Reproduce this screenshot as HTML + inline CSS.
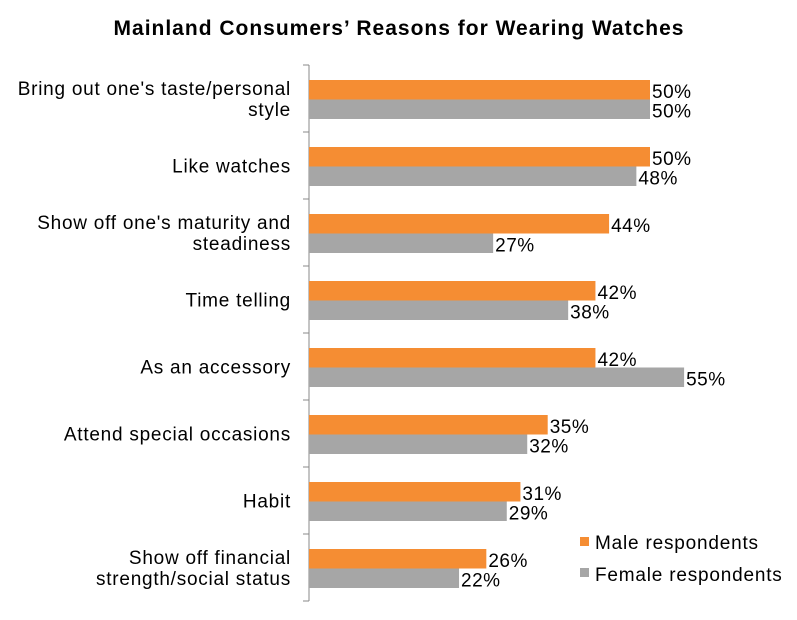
<!DOCTYPE html>
<html><head><meta charset="utf-8"><style>
body{margin:0;background:#fff;}
svg{display:block;font-family:"Liberation Sans",Arial,sans-serif;}
</style></head><body>
<svg id="chart" width="797" height="620" viewBox="0 0 797 620">
<text x="399" y="35" text-anchor="middle" font-size="21" letter-spacing="1" font-weight="bold" fill="#000">Mainland Consumers’ Reasons for Wearing Watches</text>
<g id="plot"></g>
<g>
<rect x="580" y="537" width="9" height="9" fill="#F58D33"/>
<text x="595" y="549" font-size="19" letter-spacing="0.8">Male respondents</text>
<rect x="580" y="568" width="9" height="9" fill="#A6A6A6"/>
<text x="595" y="581" font-size="19" letter-spacing="0.8">Female respondents</text>
</g>
</svg>
<script>
const categories=[["Bring out one's taste/personal","style"],["Like watches"],["Show off one's maturity and","steadiness"],["Time telling"],["As an accessory"],["Attend special occasions"],["Habit"],["Show off financial","strength/social status"]];
const male=[50,50,44,42,42,35,31,26];
const female=[50,48,27,38,55,32,29,22];
const NS="http://www.w3.org/2000/svg";
const g=document.getElementById('plot');
const x0=309,pxPer=6.82,top0=65,band=67,barH=19.5;
function xs(v){return x0+v*pxPer;}
function mk(t,a){const e=document.createElementNS(NS,t);for(const k in a)e.setAttribute(k,a[k]);g.appendChild(e);return e;}
const ax=mk('line',{x1:x0,y1:top0,x2:x0,y2:top0+band*categories.length,stroke:'#888','stroke-width':1});


for(let i=0;i<=categories.length;i++){
 const t=mk('line',{x1:x0-6,x2:x0,y1:top0+band*i,y2:top0+band*i,stroke:'#888'});
 
 
}
categories.forEach((c,i)=>{
 const by=top0+band*i+15;
 const r1=mk('rect',{x:x0,y:by,width:xs(male[i])-x0,height:barH,fill:'#F58D33'});
 
 
 const r2=mk('rect',{x:x0,y:by+barH,width:xs(female[i])-x0,height:barH,fill:'#A6A6A6'});
 
 
 const l1=mk('text',{x:xs(male[i])+2,y:by+barH/2+8,'font-size':19,'letter-spacing':0.5});
 l1.textContent=male[i]+'%';
 
 
 const l2=mk('text',{x:xs(female[i])+2,y:by+barH*1.5+8,'font-size':19,'letter-spacing':0.5});
 l2.textContent=female[i]+'%';
 
 
 const cy=top0+band*i+band/2;
 const n=c.length;
 c.forEach((line,j)=>{
  const t=mk('text',{x:291,y:cy+7+(j-(n-1)/2)*21,'text-anchor':'end','font-size':19,'letter-spacing':0.75});
  t.textContent=line;
  
  
 });
});
</script>
</body></html>
